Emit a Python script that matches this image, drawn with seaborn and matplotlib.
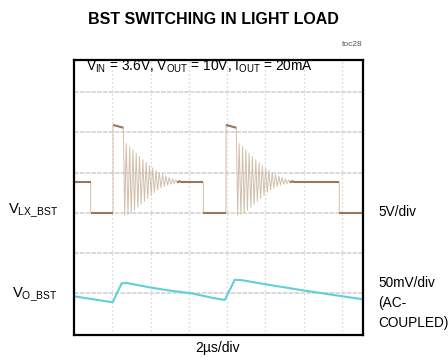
import numpy as np
import pandas as pd
import matplotlib
matplotlib.use("Agg")
import matplotlib.pyplot as plt
from matplotlib.collections import LineCollection
import seaborn as sns

sns.set_theme(style="white")
plt.rcParams['font.family'] = ['Liberation Sans', 'DejaVu Sans']
plt.rcParams['text.color'] = 'black'
plt.rcParams['mathtext.fontset'] = 'custom'
plt.rcParams['mathtext.rm'] = 'Liberation Sans'
plt.rcParams['mathtext.it'] = 'Liberation Sans:italic'
plt.rcParams['mathtext.bf'] = 'Liberation Sans:bold'

# LX node voltage (time in us, volts)
lx_t = [0.00, 0.87, 0.87, 2.04, 2.04, 2.58,
        2.65, 2.73, 2.82, 2.91, 2.99, 3.08, 3.16, 3.25, 3.34, 3.42,
        3.51, 3.60, 3.68, 3.77, 3.85, 3.94, 4.03, 4.11, 4.20, 4.28,
        4.37, 4.46, 4.54, 4.63, 4.72, 4.80, 4.89, 4.97, 5.06, 5.15,
        5.23, 5.32, 5.40, 5.49, 5.60,
        6.76, 6.76, 7.94, 7.94, 8.48,
        8.55, 8.63, 8.72, 8.81, 8.89, 8.98, 9.06, 9.15, 9.24, 9.32,
        9.41, 9.50, 9.58, 9.67, 9.75, 9.84, 9.93, 10.01, 10.10, 10.18,
        10.27, 10.36, 10.44, 10.53, 10.62, 10.70, 10.79, 10.87, 10.96, 11.05,
        11.13, 11.22, 11.30, 11.39, 11.50,
        13.86, 13.86, 15.10]
lx_v = [3.80, 3.80, 0.00, 0.00, 10.90, 10.55,
        -0.31, 8.58, -0.19, 8.21, 0.00, 7.84, 0.31, 7.41, 0.68, 6.98,
        1.05, 6.61, 1.42, 6.24, 1.79, 5.87, 2.16, 5.56, 2.53, 5.25,
        2.84, 5.00, 3.09, 4.76, 3.27, 4.57, 3.43, 4.39, 3.56, 4.20,
        3.64, 4.08, 3.73, 3.95, 3.80,
        3.80, 0.00, 0.00, 10.90, 10.55,
        -0.31, 8.58, -0.19, 8.21, 0.00, 7.84, 0.31, 7.41, 0.68, 6.98,
        1.05, 6.61, 1.42, 6.24, 1.79, 5.87, 2.16, 5.56, 2.53, 5.25,
        2.84, 5.00, 3.09, 4.76, 3.27, 4.57, 3.43, 4.39, 3.56, 4.20,
        3.64, 4.08, 3.73, 3.95, 3.80,
        3.80, 0.00, 0.00]

# Output ripple (time in us, AC-coupled mV)
vo_t = [0.00, 2.02, 2.49, 2.76, 3.96, 5.02, 6.06, 7.36, 7.88, 8.40, 8.76,
        9.98, 12.06, 15.02, 15.10]
vo_mv = [-3.5, -11.0, 12.5, 13.0, 7.5, 3.5, 0.5, -6.0, -8.0, 17.0, 16.5,
         11.5, 3.5, -7.0, -7.5]

# Scope settings: screen divisions
T_PER_DIV = 2.0          # us/div
LX_SCALE, LX_POS = 5.0, 3.0     # V/div, ground position (div)
VO_SCALE, VO_POS = 50.0, 1.0    # mV/div, marker position (div)

lx = pd.DataFrame({"t": lx_t, "y": LX_POS + np.array(lx_v) / LX_SCALE})
vo = pd.DataFrame({"t": vo_t, "y": VO_POS + np.array(vo_mv) / VO_SCALE})

W, H = 448, 359
fig = plt.figure(figsize=(W / 100, H / 100), dpi=100)
ax = fig.add_axes([74 / W, 1 - 335 / H, 289 / W, 275 / H])
ax.set_xlim(0, 15.1)
ax.set_ylim(-0.03, 6.79)

# graticule
ax.set_xticks(np.arange(2, 15, 2))
ax.set_yticks(np.arange(1, 7))
ax.xaxis.grid(True, color="#cccccc", lw=0.9, ls=(0, (1, 2.2)))
ax.yaxis.grid(True, color="#cfcfcf", lw=1.1, ls=(0, (3, 0.8)))
ax.tick_params(length=0, labelbottom=False, labelleft=False)
for s in ax.spines.values():
    s.set_color("black")
    s.set_linewidth(1.6)

# traces
sns.lineplot(data=lx, x="t", y="y", sort=False, estimator=None, ax=ax,
             color="#d2bfab", lw=0.7)
pts = lx[["t", "y"]].to_numpy()
segs = np.stack([pts[:-1], pts[1:]], axis=1)
dt = np.diff(lx["t"].to_numpy())
dv = np.abs(np.diff(np.array(lx_v)))
flat = (dt > 0) & (dv / np.where(dt > 0, dt, 1) < 3.0)
ax.add_collection(LineCollection(segs[flat], colors="#9a765a", lw=1.5,
                                 capstyle="butt"))
sns.lineplot(data=vo, x="t", y="y", sort=False, estimator=None, ax=ax,
             color="#5fd0d7", lw=1.5)
ax.set_xlabel("")
ax.set_ylabel("")


def fx(x):
    return x / W


def fy(y):
    return 1 - y / H


fig.text(fx(213), fy(19.5), "BST SWITCHING IN LIGHT LOAD", ha="center",
         va="center", fontsize=11.5, fontweight="bold")
fig.text(fx(363), fy(44), "toc28", ha="right", va="center", fontsize=6,
         color="#555555")
fig.text(fx(86), fy(71),
         r"V$_{\mathregular{IN}}$ = 3.6V, V$_{\mathregular{OUT}}$ = 10V, "
         r"I$_{\mathregular{OUT}}$ = 20mA",
         ha="left", va="baseline", fontsize=9.9)
fig.text(fx(58), fy(214), r"V$_{\mathregular{LX\_BST}}$", ha="right",
         va="baseline", fontsize=10.6)
fig.text(fx(58), fy(298), r"V$_{\mathregular{O\_BST}}$", ha="right",
         va="baseline", fontsize=10.6)
fig.text(fx(378), fy(212), "5V/div", ha="left", va="center", fontsize=9.8)
fig.text(fx(378), fy(283), "50mV/div", ha="left", va="center", fontsize=9.8)
fig.text(fx(378), fy(303), "(AC-", ha="left", va="center", fontsize=9.8)
fig.text(fx(378), fy(323), "COUPLED)", ha="left", va="center", fontsize=9.8)
fig.text(fx(218), fy(348), "2\u00b5s/div", ha="center", va="center",
         fontsize=10)

fig.savefig("out.png", dpi=100)
